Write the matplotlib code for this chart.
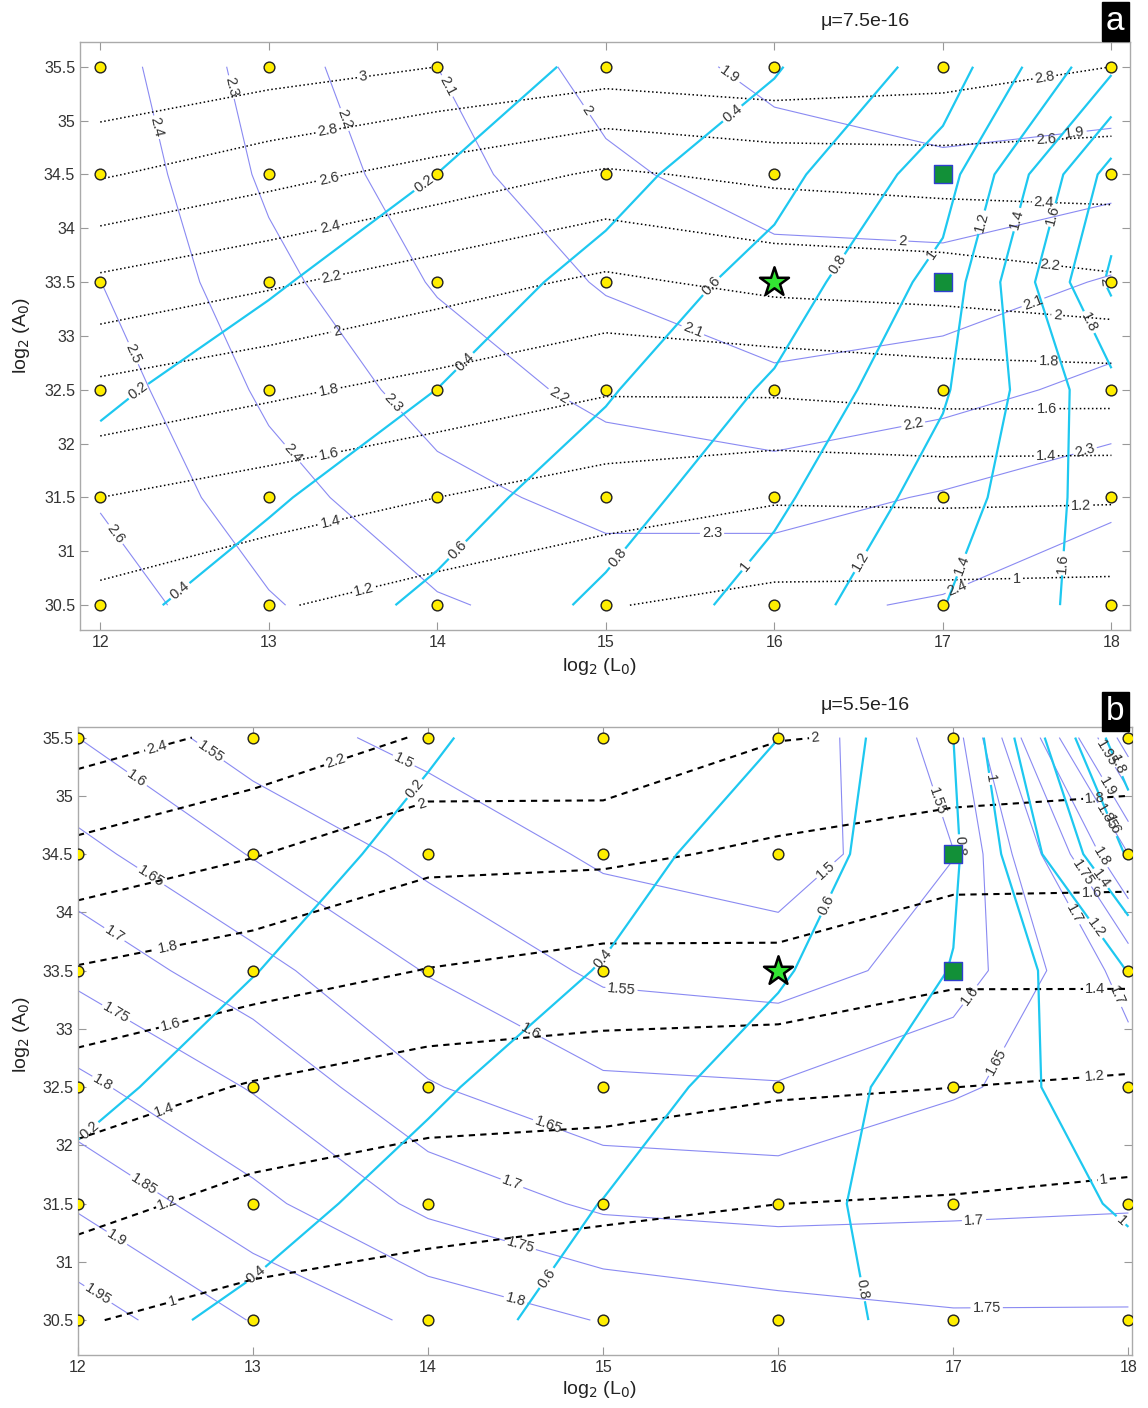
import numpy as np
import matplotlib
matplotlib.use("Agg")
import matplotlib.pyplot as plt

plt.rcParams['font.family'] = ['Liberation Sans', 'DejaVu Sans']

# grid of model runs
L0 = [12, 13, 14, 15, 16, 17, 18]
A0 = [30.5, 31.5, 32.5, 33.5, 34.5, 35.5]

# rows follow A0 (bottom to top), columns follow L0
# panel a, mu = 7.5e-16
dotted_a = [
    [1.34, 1.22, 1.11, 1.01, 0.94, 0.93, 0.92],
    [1.60, 1.50, 1.40, 1.30, 1.22, 1.23, 1.22],
    [1.95, 1.84, 1.73, 1.62, 1.63, 1.68, 1.68],
    [2.36, 2.23, 2.09, 1.96, 2.06, 2.09, 2.17],
    [2.82, 2.67, 2.52, 2.37, 2.45, 2.49, 2.49],
    [3.19, 3.09, 3.00, 2.91, 2.96, 2.90, 2.80],
]
purple_a = [
    [2.66, 2.51, 2.41, 2.36, 2.38, 2.41, 2.50],
    [2.59, 2.44, 2.33, 2.27, 2.26, 2.31, 2.37],
    [2.55, 2.38, 2.26, 2.17, 2.12, 2.16, 2.23],
    [2.501, 2.33, 2.19, 2.09, 2.04, 2.04, 2.11],
    [2.48, 2.28, 2.14, 2.02, 1.95, 1.93, 1.96],
    [2.45, 2.25, 2.10, 1.96, 1.87, 1.81, 1.82],
]
cyan_a = [
    [0.35, 0.485, 0.638, 0.84, 1.09, 1.395, 1.69],
    [0.263, 0.38, 0.52, 0.709, 0.959, 1.288, 1.71],
    [0.174, 0.285, 0.401, 0.58, 0.83, 1.175, 1.74],
    [0.056, 0.183, 0.305, 0.455, 0.68, 1.07, 2.04],
    [-0.05, 0.075, 0.201, 0.34, 0.53, 0.90, 1.88],
    [-0.15, -0.014, 0.099, 0.241, 0.384, 0.678, 1.36],
]

# panel b, mu = 5.5e-16
dotted_b = [
    [1.013, 0.928, 0.88, 0.807, 0.78, 0.76, 0.72],
    [1.268, 1.134, 1.076, 1.045, 1.001, 0.983, 0.95],
    [1.506, 1.384, 1.296, 1.281, 1.226, 1.201, 1.169],
    [1.783, 1.689, 1.594, 1.527, 1.549, 1.438, 1.443],
    [2.143, 2.011, 1.852, 1.841, 1.762, 1.687, 1.675],
    [2.495, 2.349, 2.18, 2.186, 2.008, 1.97, 1.925],
]
purple_b = [
    [1.978, 1.897, 1.838, 1.797, 1.773, 1.757, 1.757],
    [1.893, 1.815, 1.737, 1.69, 1.682, 1.69, 1.695],
    [1.8125, 1.746, 1.654, 1.61, 1.604, 1.645, 1.675],
    [1.737, 1.667, 1.597, 1.54, 1.529, 1.57, 1.72],
    [1.665, 1.597, 1.535, 1.492, 1.471, 1.549, 1.85],
    [1.60, 1.522, 1.485, 1.443, 1.46, 1.574, 2.03],
]
cyan_b = [
    [0.329, 0.438, 0.548, 0.65, 0.747, 0.85, 0.92],
    [0.245, 0.334, 0.469, 0.604, 0.746, 0.884, 1.02],
    [0.163, 0.268, 0.374, 0.515, 0.689, 0.899, 1.10],
    [0.092, 0.196, 0.30, 0.407, 0.579, 0.808, 1.205],
    [-0.2, 0.137, 0.238, 0.339, 0.484, 0.767, 1.62],
    [-0.3, 0.08, 0.184, 0.291, 0.399, 0.80, 1.95],
]

dotted_levels_a = [1.0, 1.2, 1.4, 1.6, 1.8, 2.0, 2.2, 2.4, 2.6, 2.8, 3.0]
purple_levels_a = [1.9, 2.0, 2.1, 2.2, 2.3, 2.4, 2.5, 2.6]
dotted_levels_b = [1.0, 1.2, 1.4, 1.6, 1.8, 2.0, 2.2, 2.4]
purple_levels_b = [1.5, 1.55, 1.6, 1.65, 1.7, 1.75, 1.8, 1.85, 1.9, 1.95, 2.0]
cyan_levels = [0.2, 0.4, 0.6, 0.8, 1.0, 1.2, 1.4, 1.6, 1.8, 2.0]

# highlighted runs
squares_L = [17, 17]
squares_A = [34.5, 33.5]
star_L = [16]
star_A = [33.5]

mu_a = "μ=7.5e-16"
mu_b = "μ=5.5e-16"

# where the contour labels sit (L0, A0)
dotted_lab_a = [(13.56, 35.41), (13.35, 34.89), (13.36, 34.44), (13.36, 34.04), (13.36, 33.64),
                (13.39, 33.15), (13.35, 32.55), (13.35, 31.98), (13.35, 31.38), (13.55, 30.75),
                (17.6, 35.43), (17.61, 34.83), (17.6, 34.29), (17.63, 33.63), (17.68, 33.22),
                (17.63, 32.76), (17.62, 32.33), (17.61, 31.91), (17.82, 31.48), (17.44, 30.75)]
purple_lab_a = [(12.34, 34.94), (12.83, 35.33), (13.45, 35.01), (14.02, 35.29), (14.86, 35.07),
                (15.73, 35.41), (12.14, 32.8), (12.1, 31.17), (13.14, 31.91), (13.69, 32.31),
                (14.71, 32.42), (15.5, 32.99), (15.63, 31.19), (16.76, 33.91), (17.78, 34.91),
                (17.53, 33.33), (16.83, 32.13), (17.83, 32.01), (17.1, 30.59)]
cyan_lab_a = [(12.22, 32.5), (13.88, 34.5), (12.47, 30.64), (14.15, 32.78), (15.78, 35.01),
              (14.12, 31.01), (15.65, 33.43), (15.06, 30.95), (16.4, 33.64), (15.81, 30.89),
              (16.96, 33.73), (16.46, 30.95), (17.22, 34.06), (17.08, 30.89), (17.44, 34.08),
              (17.7, 30.89), (17.61, 34.14), (17.87, 33.13), (17.93, 33.5)]
dotted_lab_b = [(12.45, 35.42), (13.47, 35.3), (13.96, 34.96), (12.51, 33.73), (12.52, 33.09),
                (12.48, 32.36), (12.51, 31.51), (12.54, 30.66), (16.33, 35.48), (17.81, 34.98),
                (17.79, 34.19), (17.81, 33.31), (17.81, 32.58), (17.86, 31.69)]
purple_lab_b = [(12.72, 35.3), (12.31, 35.09), (13.86, 35.3), (12.39, 34.25), (12.19, 33.77),
                (12.2, 33.09), (12.13, 32.51), (12.36, 31.63), (12.22, 31.2), (12.11, 30.71),
                (15.1, 33.27), (14.56, 32.9), (14.68, 32.15), (14.47, 31.64), (14.52, 31.11),
                (14.5, 30.68), (16.26, 34.38), (16.93, 34.96), (17.06, 33.33), (17.16, 32.79),
                (17.12, 31.29), (17.19, 30.69), (17.69, 33.99), (17.74, 34.34), (17.86, 34.49),
                (17.85, 34.8), (17.9, 35.09), (17.86, 35.35), (17.78, 33.18)]
cyan_lab_b = [(12.07, 32.12), (13.95, 35.03), (13.01, 30.9), (15.04, 33.56), (14.66, 30.88),
              (16.35, 34.01), (17.09, 34.57), (16.5, 30.77), (17.23, 35.15), (17.93, 31.31),
              (17.82, 33.87), (17.86, 34.31), (17.89, 34.74), (17.93, 35.26)]

PURPLE = '#8a8af2'
CYAN = '#1ec8f0'
LABEL_COLOR = '#333333'
LABEL_SIZE = 10.5


def label(ax, cs, spots):
    ax.clabel(cs, fmt='%g', fontsize=LABEL_SIZE, colors=LABEL_COLOR, inline=True,
              inline_spacing=2, manual=spots)


def draw_panel(ax, dotted, purple, cyan, dotted_levels, purple_levels, dotted_style, dotted_lw,
               spots_dotted, spots_purple, spots_cyan):
    X, Y = np.meshgrid(L0, A0)
    cs = ax.contour(X, Y, np.array(purple), levels=purple_levels, colors=PURPLE, linewidths=0.8)
    label(ax, cs, spots_purple)
    cs = ax.contour(X, Y, np.array(dotted), levels=dotted_levels, colors='black',
                    linewidths=dotted_lw, linestyles=[dotted_style])
    label(ax, cs, spots_dotted)
    cs = ax.contour(X, Y, np.array(cyan), levels=cyan_levels, colors=CYAN, linewidths=1.6)
    label(ax, cs, spots_cyan)

    ax.scatter(X.ravel(), Y.ravel(), s=60, c='#ffee00', edgecolors='#222222', linewidths=1.0, zorder=5)
    ax.scatter(squares_L, squares_A, s=160, marker='s', c='#129038', edgecolors='#3040d0',
               linewidths=1.0, zorder=6)
    ax.scatter(star_L, star_A, s=480, marker='*', c='#33e633', edgecolors='black',
               linewidths=1.8, zorder=6)

    ax.set_xticks(L0)
    ax.set_yticks(np.arange(30.5, 35.51, 0.5))
    ax.yaxis.set_major_formatter(matplotlib.ticker.FormatStrFormatter('%g'))
    ax.tick_params(direction='in', length=6, width=0.8, color='#999999', labelcolor=LABEL_COLOR,
                   labelsize=11.5, top=True, right=True)
    for sp in ax.spines.values():
        sp.set_color('#aaaaaa')
        sp.set_linewidth(1.0)


fig = plt.figure(figsize=(11.48, 14.08), dpi=100)
ax_a = fig.add_axes([0.0697, 0.5526, 0.9146, 0.4176])
ax_b = fig.add_axes([0.0679, 0.0376, 0.9181, 0.4460])

ax_a.set_xlim(11.88, 18.11)
ax_a.set_ylim(30.27, 35.73)
draw_panel(ax_a, dotted_a, purple_a, cyan_a, dotted_levels_a, purple_levels_a, ':', 1.1,
           dotted_lab_a, purple_lab_a, cyan_lab_a)
ax_a.set_xlim(11.88, 18.11)
ax_a.set_ylim(30.27, 35.73)

ax_b.set_xlim(12.0, 18.02)
ax_b.set_ylim(30.2, 35.59)
draw_panel(ax_b, dotted_b, purple_b, cyan_b, dotted_levels_b, purple_levels_b, (0, (3, 2.5)), 1.5,
           dotted_lab_b, purple_lab_b, cyan_lab_b)
ax_b.set_xlim(12.0, 18.02)
ax_b.set_ylim(30.2, 35.59)

for ytxt in [0.5263, 0.0128]:
    fig.text(0.5226, ytxt, r'log$_2$ (L$_0$)', ha='center', va='center', fontsize=14, color='#222222')
for ytxt in [0.762, 0.265]:
    fig.text(0.019, ytxt, r'log$_2$ (A$_0$)', rotation=90, ha='center', va='center', fontsize=14,
             color='#222222')

fig.text(0.7535, 0.9844, mu_a, ha='center', va='center', fontsize=14, color='#222222')
fig.text(0.7535, 0.4986, mu_b, ha='center', va='center', fontsize=14, color='#222222')

for letter, yc in [('a', 0.9844), ('b', 0.4950)]:
    fig.text(0.9715, yc, letter, ha='center', va='center', fontsize=24, color='white',
             bbox=dict(boxstyle='square,pad=0.12', fc='black', ec='black'))

fig.savefig('out.png', dpi=100)
